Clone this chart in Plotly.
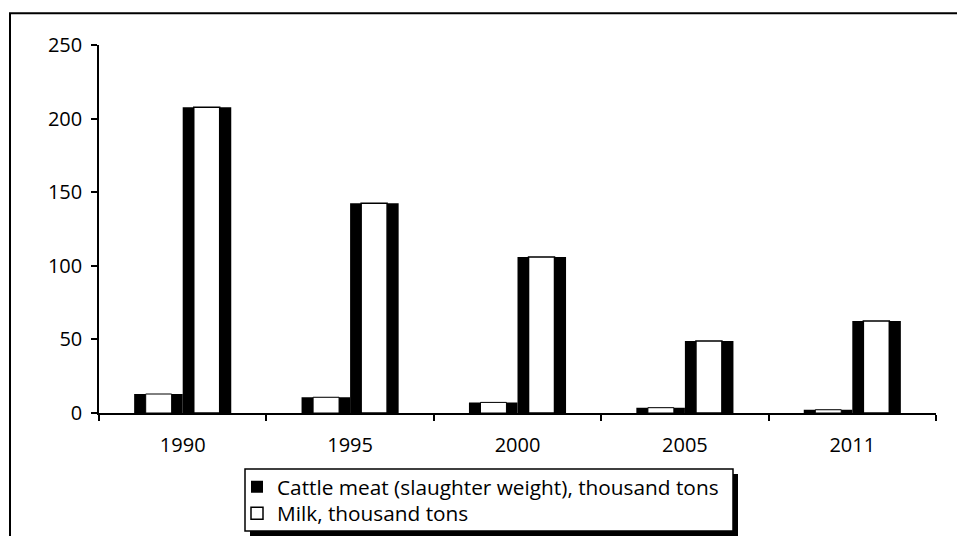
import plotly.graph_objects as go

years = ["1990", "1995", "2000", "2005", "2011"]
cattle_meat = [12.9, 10.7, 7.2, 3.6, 2.2]
milk = [207.7, 142.5, 106.0, 48.9, 62.5]
y_ticks = [0, 50, 100, 150, 200, 250]

FONT = "Open Sans"

fig = go.Figure()

# Cattle meat: black outer bar + white inner core
fig.add_trace(go.Bar(
    x=years, y=cattle_meat, name="Cattle meat (slaughter weight), thousand tons",
    offset=-0.29, width=0.29, marker=dict(color="black", line=dict(width=0)),
    legendgroup="cattle", showlegend=True, legend="legend", hoverinfo="skip"))
fig.add_trace(go.Bar(
    x=years, y=cattle_meat, name="Cattle meat (slaughter weight), thousand tons",
    offset=-0.221, width=0.155, marker=dict(color="white", line=dict(color="black", width=1)),
    legendgroup="cattle", showlegend=False, hoverinfo="skip"))

# Milk: black outer bar + white inner core
fig.add_trace(go.Bar(
    x=years, y=milk, name="Milk, thousand tons",
    offset=0.0, width=0.29, marker=dict(color="black", line=dict(width=0)),
    legendgroup="milk", showlegend=False, hoverinfo="skip"))
fig.add_trace(go.Bar(
    x=years, y=milk, name="Milk, thousand tons",
    offset=0.066, width=0.155, marker=dict(color="white", line=dict(color="black", width=1.5)),
    legendgroup="milk", showlegend=True, legend="legend2", hoverinfo="skip"))

# window coordinates of the plot area (page body margin removed below)
L, R, T, B = 99, 936, 44.7, 413.0
W, H = 957, 536

def px(x):
    return (x - L) / (R - L)

def py(y):
    return (B - y) / (B - T)

shapes = [
    # outer chart frame (extends past right/bottom edges)
    dict(type="rect", xref="paper", yref="paper", x0=px(10), x1=px(1000), y0=py(580), y1=py(13),
         line=dict(color="black", width=2), fillcolor="rgba(0,0,0,0)", layer="below"),
    # legend shadow
    dict(type="rect", xref="paper", yref="paper", x0=px(250), x1=px(738), y0=py(536), y1=py(474),
         line=dict(width=0), fillcolor="black", layer="above"),
    # legend box
    dict(type="rect", xref="paper", yref="paper", x0=px(245), x1=px(733), y0=py(531), y1=py(469),
         line=dict(color="black", width=1.5), fillcolor="white", layer="above"),
]

legend_common = dict(
    xanchor="left", yanchor="top",
    bgcolor="rgba(0,0,0,0)", borderwidth=0,
    font=dict(family=FONT, size=20.8, color="black"),
)

fig.update_layout(
    width=W, height=H,
    margin=dict(l=L, r=W - R, t=T, b=H - B, autoexpand=False),
    paper_bgcolor="white", plot_bgcolor="white",
    barmode="overlay",
    font=dict(family=FONT, size=20, color="black"),
    shapes=shapes,
    legend=dict(x=px(237), y=py(466.7), **legend_common),
    legend2=dict(x=px(237), y=py(493.3), **legend_common),
    xaxis=dict(
        type="category", categoryorder="array", categoryarray=years,
        range=[-0.5, len(years) - 0.5],
        showline=True, linecolor="black", linewidth=1.5,
        ticks="outside", tickson="boundaries", ticklen=6, tickcolor="black", tickwidth=1.5,
        showgrid=False, zeroline=False, ticklabelstandoff=13,
        tickfont=dict(family=FONT, size=20, color="black"),
    ),
    yaxis=dict(
        range=[0, 250], tickvals=y_ticks,
        showline=True, linecolor="black", linewidth=1.5,
        ticks="outside", ticklen=6, tickcolor="black", tickwidth=1.5,
        showgrid=False, zeroline=False, ticklabelstandoff=5,
        tickfont=dict(family=FONT, size=20, color="black"),
    ),
)

fig.write_html(
    "out.html",
    config={"displayModeBar": False},
    post_script="document.body.style.margin='0';document.body.style.overflow='hidden';",
)
